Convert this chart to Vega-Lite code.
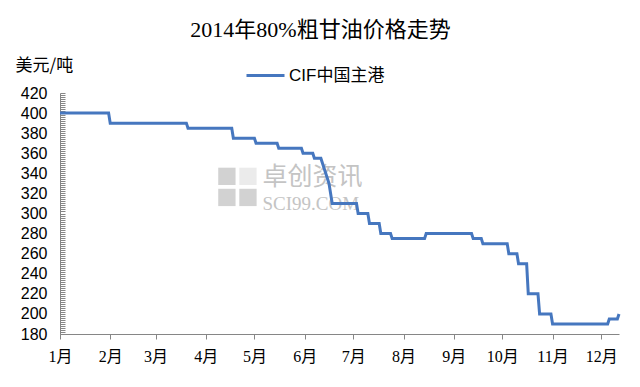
{
  "$schema": "https://vega.github.io/schema/vega-lite/v6.json",
  "width": 559,
  "height": 241,
  "autosize": {"type": "none"},
  "padding": {"left": 60, "top": 93, "right": 21, "bottom": 53},
  "background": "white",
  "title": {
    "text": "2014年80%粗甘油价格走势",
    "font": "Liberation Serif, Noto Sans CJK SC",
    "fontSize": 22,
    "fontWeight": "normal",
    "color": "#000000",
    "anchor": "middle",
    "frame": "group",
    "dx": -19,
    "offset": 13
  },
  "config": {
    "view": {"stroke": null},
    "axis": {"grid": false, "domainColor": "#868686", "tickColor": "#868686", "labelColor": "#000000"}
  },
  "datasets": {
    "prices": [
      {"date": "2014-01-01", "price": 400},
      {"date": "2014-01-31", "price": 400},
      {"date": "2014-02-01", "price": 390},
      {"date": "2014-03-20", "price": 390},
      {"date": "2014-03-21", "price": 385},
      {"date": "2014-04-17", "price": 385},
      {"date": "2014-04-18", "price": 375},
      {"date": "2014-05-01", "price": 375},
      {"date": "2014-05-02", "price": 370},
      {"date": "2014-05-15", "price": 370},
      {"date": "2014-05-16", "price": 365},
      {"date": "2014-05-30", "price": 365},
      {"date": "2014-05-31", "price": 360},
      {"date": "2014-06-06", "price": 360},
      {"date": "2014-06-07", "price": 355},
      {"date": "2014-06-11", "price": 355},
      {"date": "2014-06-16", "price": 330},
      {"date": "2014-06-18", "price": 310},
      {"date": "2014-07-03", "price": 310},
      {"date": "2014-07-04", "price": 300},
      {"date": "2014-07-10", "price": 300},
      {"date": "2014-07-11", "price": 290},
      {"date": "2014-07-17", "price": 290},
      {"date": "2014-07-18", "price": 280},
      {"date": "2014-07-24", "price": 280},
      {"date": "2014-07-25", "price": 275},
      {"date": "2014-08-14", "price": 275},
      {"date": "2014-08-15", "price": 280},
      {"date": "2014-09-12", "price": 280},
      {"date": "2014-09-13", "price": 275},
      {"date": "2014-09-18", "price": 275},
      {"date": "2014-09-19", "price": 270},
      {"date": "2014-10-04", "price": 270},
      {"date": "2014-10-05", "price": 260},
      {"date": "2014-10-10", "price": 260},
      {"date": "2014-10-11", "price": 250},
      {"date": "2014-10-16", "price": 250},
      {"date": "2014-10-17", "price": 220},
      {"date": "2014-10-23", "price": 220},
      {"date": "2014-10-24", "price": 200},
      {"date": "2014-10-31", "price": 200},
      {"date": "2014-11-01", "price": 190},
      {"date": "2014-12-05", "price": 190},
      {"date": "2014-12-06", "price": 195},
      {"date": "2014-12-11", "price": 195},
      {"date": "2014-12-12", "price": 200}
    ],
    "mark": [{"name": "卓创资讯", "site": "SCI99.COM"}]
  },
  "layer": [
    {
      "data": {"name": "mark"},
      "mark": {"type": "point", "shape": "square", "filled": true, "size": 300, "color": "#d2d2d2", "opacity": 1},
      "encoding": {
        "x": {"datum": {"year": 2014, "month": 4, "date": 14, "utc": true}, "type": "temporal"},
        "y": {"datum": 337, "type": "quantitative"}
      }
    },
    {
      "data": {"name": "mark"},
      "mark": {"type": "point", "shape": "square", "filled": true, "size": 300, "color": "#ebebeb", "opacity": 1},
      "encoding": {
        "x": {"datum": {"year": 2014, "month": 4, "date": 27, "utc": true}, "type": "temporal"},
        "y": {"datum": 337, "type": "quantitative"}
      }
    },
    {
      "data": {"name": "mark"},
      "mark": {"type": "point", "shape": "square", "filled": true, "size": 300, "color": "#d2d2d2", "opacity": 1},
      "encoding": {
        "x": {"datum": {"year": 2014, "month": 4, "date": 14, "utc": true}, "type": "temporal"},
        "y": {"datum": 316, "type": "quantitative"}
      }
    },
    {
      "data": {"name": "mark"},
      "mark": {"type": "point", "shape": "square", "filled": true, "size": 300, "color": "#d2d2d2", "opacity": 1},
      "encoding": {
        "x": {"datum": {"year": 2014, "month": 4, "date": 27, "utc": true}, "type": "temporal"},
        "y": {"datum": 316, "type": "quantitative"}
      }
    },
    {
      "data": {"name": "mark"},
      "mark": {"type": "text", "font": "Noto Sans CJK SC", "fontSize": 25, "color": "#c4c4c4", "align": "left", "baseline": "middle"},
      "encoding": {
        "text": {"field": "name"},
        "x": {"datum": {"year": 2014, "month": 5, "date": 6, "utc": true}, "type": "temporal"},
        "y": {"datum": 336, "type": "quantitative"}
      }
    },
    {
      "data": {"name": "mark"},
      "mark": {"type": "text", "font": "Liberation Serif", "fontSize": 19, "color": "#c4c4c4", "align": "left", "baseline": "middle"},
      "encoding": {
        "text": {"field": "site"},
        "x": {"datum": {"year": 2014, "month": 5, "date": 6, "utc": true}, "type": "temporal"},
        "y": {"datum": 309, "type": "quantitative"}
      }
    },
    {
      "data": {"name": "prices"},
      "mark": {"type": "line", "strokeWidth": 3, "strokeJoin": "miter"},
      "encoding": {
        "x": {
          "field": "date",
          "type": "temporal",
          "scale": {"type": "utc", "domain": [{"year": 2014, "month": 1, "date": 1, "utc": true}, {"year": 2014, "month": 12, "date": 12, "utc": true}], "nice": false},
          "axis": {
            "title": null,
            "tickCount": {"interval": "month", "step": 1},
            "labelExpr": "(utcmonth(datum.value) + 1) + '月'",
            "labelFont": "Liberation Serif, Noto Sans CJK SC",
            "labelFontSize": 16,
            "tickSize": 5,
            "labelPadding": 9,
            "labelOverlap": false,
            "labelFlush": false
          }
        },
        "y": {
          "field": "price",
          "type": "quantitative",
          "scale": {"domain": [180, 420], "nice": false, "zero": false},
          "axis": {
            "title": "美元/吨",
            "titleAngle": 0,
            "titleX": -45,
            "titleY": -28,
            "titleAlign": "left",
            "titleBaseline": "middle",
            "titleFont": "Noto Sans CJK SC",
            "titleFontSize": 17,
            "titleFontWeight": "normal",
            "titleColor": "#000000",
            "tickCount": 120,
            "labelExpr": "datum.value % 20 === 0 ? datum.label : ''",
            "labelFont": "Liberation Sans",
            "labelFontSize": 16,
            "labelOverlap": false,
            "labelFlush": false,
            "tickSize": -5,
            "labelPadding": 18
          }
        },
        "color": {
          "datum": "CIF中国主港",
          "type": "nominal",
          "scale": {"range": ["#4677BF"]},
          "legend": {
            "title": null,
            "orient": "none",
            "legendX": 185,
            "legendY": -38,
            "symbolType": "stroke",
            "symbolSize": 1444,
            "symbolStrokeWidth": 3,
            "labelFont": "Liberation Sans, Noto Sans CJK SC",
            "labelFontSize": 17,
            "labelColor": "#000000",
            "labelOffset": 3
          }
        }
      }
    }
  ]
}
